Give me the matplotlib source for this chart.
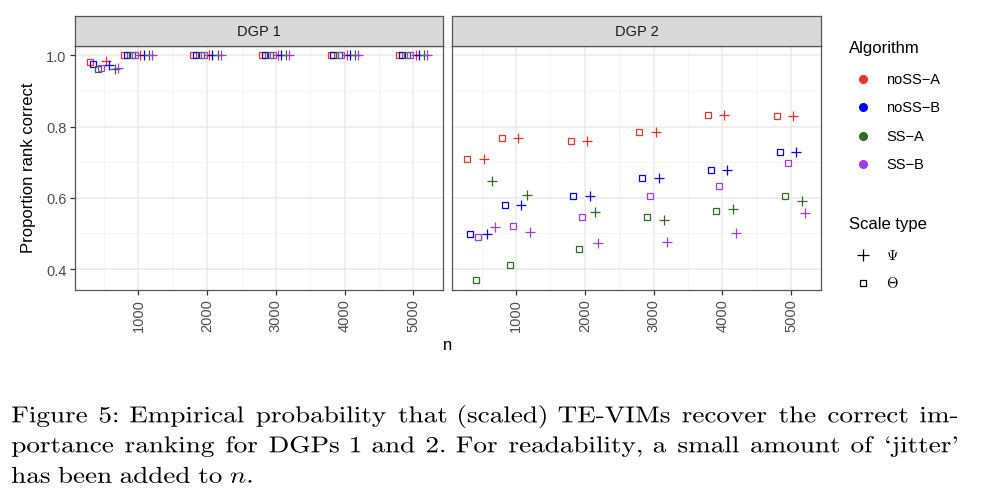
import matplotlib
matplotlib.use('Agg')
import matplotlib.pyplot as plt
from matplotlib.lines import Line2D
from matplotlib.ticker import MultipleLocator
from matplotlib.textpath import TextPath
from matplotlib.patches import PathPatch
from matplotlib.font_manager import FontProperties
from matplotlib.transforms import Affine2D

plt.rcParams['font.family'] = ['Liberation Sans', 'DejaVu Sans']
plt.rcParams['mathtext.fontset'] = 'cm'

# data
n_values = [500, 1000, 2000, 3000, 4000, 5000]
algorithms = ['noSS\u2212A', 'noSS\u2212B', 'SS\u2212A', 'SS\u2212B']
colors = ['#e8342a', '#0000ff', '#2f6b22', '#a03cf0']
# jitter added to n (per algorithm), for Theta (square) and Psi (plus)
jitter_theta = [-205, -165, -88, -47]
jitter_psi = [30, 75, 153, 197]

dgp1_theta = {
    'noSS\u2212A': [0.981, 1.0, 1.0, 1.0, 1.0, 1.0],
    'noSS\u2212B': [0.977, 1.0, 1.0, 1.0, 1.0, 1.0],
    'SS\u2212A': [0.962, 1.0, 1.0, 1.0, 1.0, 1.0],
    'SS\u2212B': [0.966, 1.0, 1.0, 1.0, 1.0, 1.0],
}
dgp1_psi = {
    'noSS\u2212A': [0.985, 1.0, 1.0, 1.0, 1.0, 1.0],
    'noSS\u2212B': [0.973, 1.0, 1.0, 1.0, 1.0, 1.0],
    'SS\u2212A': [0.963, 1.0, 1.0, 1.0, 1.0, 1.0],
    'SS\u2212B': [0.966, 1.0, 1.0, 1.0, 1.0, 1.0],
}
dgp2_theta = {
    'noSS\u2212A': [0.710, 0.769, 0.759, 0.785, 0.832, 0.830],
    'noSS\u2212B': [0.497, 0.581, 0.606, 0.655, 0.678, 0.729],
    'SS\u2212A': [0.369, 0.411, 0.457, 0.547, 0.563, 0.605],
    'SS\u2212B': [0.489, 0.521, 0.547, 0.605, 0.634, 0.697],
}
dgp2_psi = {
    'noSS\u2212A': [0.710, 0.769, 0.759, 0.785, 0.832, 0.830],
    'noSS\u2212B': [0.497, 0.581, 0.606, 0.655, 0.678, 0.729],
    'SS\u2212A': [0.647, 0.608, 0.561, 0.539, 0.568, 0.592],
    'SS\u2212B': [0.518, 0.505, 0.473, 0.477, 0.501, 0.558],
}

caption = [
    "Figure 5: Empirical probability that (scaled) TE-VIMs recover the correct im-",
    "portance ranking for DGPs 1 and 2. For readability, a small amount of `jitter'",
    "has been added to $n$.",
]

W, H = 984, 502
fig = plt.figure(figsize=(W / 100, H / 100), dpi=100)


def fx(px):
    return px / W


def fy(py):
    return 1 - py / H


panels = [('DGP 1', 74.7, dgp1_theta, dgp1_psi), ('DGP 2', 452.3, dgp2_theta, dgp2_psi)]
panel_w = 368.5
top, bottom = 46.5, 291

for k, (title, left, theta, psi) in enumerate(panels):
    ax = fig.add_axes([fx(left), fy(bottom), panel_w / W, (bottom - top) / H])
    ax.set_xlim(74, 5432)
    ax.set_ylim(0.341, 1.028)
    ax.xaxis.set_minor_locator(MultipleLocator(500))
    ax.yaxis.set_minor_locator(MultipleLocator(0.1))
    ax.set_xticks([1000, 2000, 3000, 4000, 5000])
    ax.set_yticks([0.4, 0.6, 0.8, 1.0])
    ax.grid(which='major', color='#ebebeb', lw=1.1, zorder=0)
    ax.grid(which='minor', color='#f2f2f2', lw=0.6, zorder=0)
    ax.set_axisbelow(True)
    for s in ax.spines.values():
        s.set_color('#555555')
        s.set_linewidth(0.9)
    ax.tick_params(which='major', length=3.5, width=0.9, color='#333333',
                   labelsize=10.5, labelcolor='#4d4d4d', pad=2.5)
    ax.tick_params(which='minor', length=0)
    ax.tick_params(axis='x', labelrotation=90)
    if k == 0:
        ax.set_yticklabels(['0.4', '0.6', '0.8', '1.0'])
    else:
        ax.tick_params(axis='y', length=0, labelleft=False)

    for i, alg in enumerate(algorithms):
        xs_t = [n + jitter_theta[i] for n in n_values]
        xs_p = [n + jitter_psi[i] for n in n_values]
        ax.plot(xs_t, theta[alg], ls='none', marker='s', ms=5, mfc='none',
                mec=colors[i], mew=0.9, zorder=3)
        ax.plot(xs_p, psi[alg], ls='none', marker='+', ms=7.8,
                mec=colors[i], mew=0.9, zorder=3)

    # strip
    sax = fig.add_axes([fx(left), fy(top), panel_w / W, (top - 17.3) / H])
    sax.set_xticks([])
    sax.set_yticks([])
    sax.set_facecolor('#d9d9d9')
    for s in sax.spines.values():
        s.set_color('#555555')
        s.set_linewidth(0.9)
    sax.text(0.5, 0.5, title, ha='center', va='center', fontsize=10.5,
             color='#1a1a1a', transform=sax.transAxes)

# axis titles
fig.text(fx(448), fy(346), 'n', ha='center', va='center', fontsize=12)
fig.text(fx(29), fy(168), 'Proportion rank correct', ha='center', va='center',
         rotation=90, fontsize=12)

# legend
fig.text(fx(849), fy(48), 'Algorithm', ha='left', va='center', fontsize=12)
leg_y = [80, 108, 137, 165]
for i, alg in enumerate(algorithms):
    fig.add_artist(Line2D([fx(863)], [fy(leg_y[i])], transform=fig.transFigure,
                          marker='o', ms=5.5, color=colors[i], ls='none'))
    fig.text(fx(886), fy(leg_y[i]), alg, ha='left', va='center', fontsize=10.5)

fig.text(fx(849), fy(225), 'Scale type', ha='left', va='center', fontsize=12)
fig.add_artist(Line2D([fx(863)], [fy(256)], transform=fig.transFigure,
                      marker='+', ms=8, mew=0.9, color='black', ls='none'))
fig.add_artist(Line2D([fx(863)], [fy(284)], transform=fig.transFigure,
                      marker='s', ms=4.5, mfc='none', mec='black', mew=0.9, ls='none'))
fig.text(fx(886), fy(256), r'$\Psi$', ha='left', va='center', fontsize=10.5)
fig.text(fx(886), fy(284), r'$\Theta$', ha='left', va='center', fontsize=10.5)

# caption: the screenshot is a bit stretched sideways, so draw the words as
# paths with a horizontal scale and justify the full lines
cap_prop = FontProperties(family='cmr10')
em = 23.0
stretch = 1.18
cap_base = [423.3, 453.3, 483.8]
x0, x1 = 12, 957


def word_path(w):
    p = TextPath((0, 0), w, size=em, prop=cap_prop)
    return p, p.get_extents()


for j, (line, yb) in enumerate(zip(caption, cap_base)):
    words = line.split(' ')
    paths = [word_path(w) for w in words]
    widths = [e.width * stretch for _, e in paths]
    if j == len(caption) - 1:
        gap = 0.333 * em * stretch
    else:
        gap = (x1 - x0 - sum(widths)) / (len(words) - 1)
    x = x0
    for (p, e), wd in zip(paths, widths):
        tr = Affine2D().translate(-e.x0, 0).scale(stretch, 1).translate(x, H - yb)
        fig.add_artist(PathPatch(p, transform=tr, fc='black', lw=0))
        x += wd + gap

fig.savefig('out.png', dpi=100)
